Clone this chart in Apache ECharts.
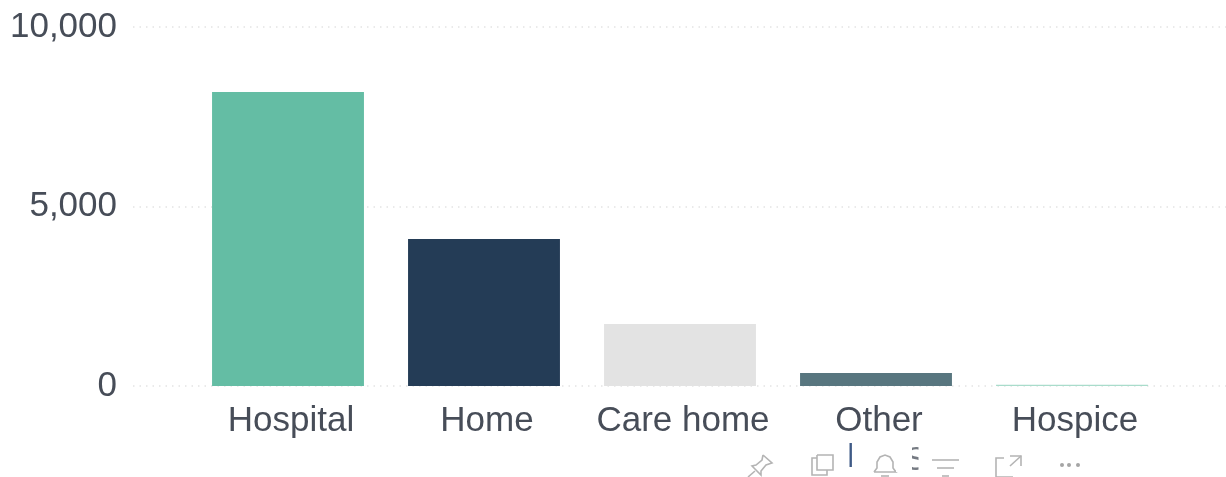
<!DOCTYPE html>
<html>
<head>
<meta charset="utf-8">
<style>html,body{margin:0;padding:0;background:#fff}#c{width:1226px;height:477px}</style>
<script src="https://cdn.jsdelivr.net/npm/echarts@6/dist/echarts.min.js"></script>
</head>
<body>
<div id="c"></div>
<script>
// Deaths by place of occurrence
const categories = ['Hospital', 'Home', 'Care home', 'Other', 'Hospice'];
const values = [8190, 4095, 1730, 360, 35];
const barColors = ['#64BDA4', '#243C56', '#E3E3E3', '#58767F', '#A9DCCB'];
const yTicks = { min: 0, max: 10000, interval: 5000 };
const textColor = '#474d58';
const fontFamily = '"Liberation Sans", Arial, sans-serif';
const iconColor = '#b4b4b4';

// Visual-header toolbar glyphs: each one is a few strokes, relative to its origin
const icons = [
  { x: 747, y: 454, strokes: [[[16,1],[25,9],[19,11],[14,17],[14,21],[5,12],[9,11],[15,6],[16,1]], [[8,17],[1,23]]] },
  { x: 810, y: 454, strokes: [[[7,1],[23,1],[23,16],[7,16],[7,1]], [[7,4],[2,4],[2,21],[17,21],[17,16]]] },
  { x: 873, y: 454, strokes: [[[1,18],[4,14],[4,8],[7,3],[12,1],[17,3],[20,8],[20,14],[23,18],[1,18]], [[8,22],[16,22]]] },
  { x: 932, y: 455, strokes: [[[0,5],[27,5]], [[5,13],[22,13]], [[10,21],[17,21]]] },
  { x: 995, y: 455, strokes: [[[9,3],[1,3],[1,22],[18,22]], [[15,1],[26,1],[26,11]], [[26,1],[15,11]]] }
];
const dots = [1062, 1069, 1078];

const chart = echarts.init(document.getElementById('c'));
const graphic = icons.flatMap(ic => ic.strokes.map(points => ({
  type: 'polyline',
  x: ic.x, y: ic.y,
  shape: { points },
  style: { fill: 'none', stroke: iconColor, lineWidth: 1.6 }
}))).concat(dots.map(cx => ({
  type: 'circle',
  shape: { cx, cy: 465, r: 2 },
  style: { fill: '#a5a5a5' }
}))).concat([
  // Second line of the wrapped "Other" label, mostly hidden under the toolbar
  { type: 'rect', shape: { x: 849.5, y: 443, width: 2.4, height: 24 }, style: { fill: '#3f5a86' } },
  { type: 'text', x: 905, y: 444, style: { text: 'S', font: '33px ' + fontFamily, fill: textColor, opacity: 0.75 } },
  { type: 'rect', shape: { x: 896, y: 438, width: 16, height: 34 }, style: { fill: '#fff' }, z: 10 },
  { type: 'rect', shape: { x: 918.5, y: 438, width: 13, height: 34 }, style: { fill: '#fff' }, z: 10 }
]);

chart.setOption({
  animation: false,
  backgroundColor: '#fff',
  graphic,
  grid: [
    { left: 133, right: 0, top: 27, height: 359 },
    { left: 190, width: 980, top: 27, height: 359 }
  ],
  xAxis: [
    { gridIndex: 0, type: 'category', data: categories, show: false },
    {
      gridIndex: 1, type: 'category', data: categories,
      axisLine: { show: false }, axisTick: { show: false },
      axisLabel: { color: textColor, fontSize: 35, fontFamily, margin: 18, interval: 0, padding: [0, 0, 0, 6] }
    }
  ],
  yAxis: [
    {
      gridIndex: 0, type: 'value', ...yTicks,
      axisLine: { show: false }, axisTick: { show: false },
      axisLabel: {
        color: textColor, fontSize: 35, fontFamily, margin: 16,
        padding: [2, 0, 0, 0],
        formatter: v => v.toLocaleString('en-US')
      },
      splitLine: { show: true, lineStyle: { color: '#e4e4e4', type: [1.5, 5], width: 1.5 } }
    },
    { gridIndex: 1, type: 'value', ...yTicks, show: false, splitLine: { show: false } }
  ],
  series: [{
    type: 'bar',
    xAxisIndex: 1, yAxisIndex: 1,
    barWidth: '77.5%',
    data: values.map((value, i) => ({ value, itemStyle: { color: barColors[i] } }))
  }]
});
</script>
</body>
</html>
